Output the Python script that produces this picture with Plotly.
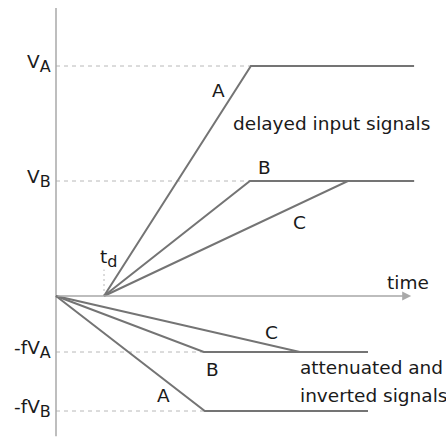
import plotly.graph_objects as go

# Time in units of the delay t_d, voltage in units of V_B
t_delay = 1.0

# Delayed input signals (upper half)
delayed_A_t = [1.0, 4.06, 7.46]
delayed_A_v = [0.0, 2.0, 2.0]
delayed_B_t = [1.0, 4.04, 7.46]
delayed_B_v = [0.0, 1.0, 1.0]
delayed_C_t = [1.0, 6.08, 7.46]
delayed_C_v = [0.0, 1.0, 1.0]

# Attenuated and inverted signals (lower half)
inverted_A_t = [0.0, 3.10, 6.50]
inverted_A_v = [0.0, -1.0, -1.0]
inverted_B_t = [0.0, 3.08, 6.50]
inverted_B_v = [0.0, -0.487, -0.487]
inverted_C_t = [0.0, 5.08, 6.50]
inverted_C_v = [0.0, -0.487, -0.487]

# Reference levels on the vertical axis
level_main = ["V", "V", "-fV", "-fV"]
level_subs = ["A", "B", "A", "B"]
level_values = [2.0, 1.0, -0.487, -1.0]
level_ends = [4.06, 4.04, 3.08, 3.10]

FONT = "DejaVu Sans"
FS = 18.5
SUB_FS = 16
TXT = "#1a1a1a"
LINE = "#747474"
AXIS = "#a8a8a8"
DASH = "#b8b8b8"

fig = go.Figure()

# dashed level guides
for v, xe in zip(level_values, level_ends):
    fig.add_trace(go.Scatter(x=[0, xe], y=[v, v], mode="lines",
                             line=dict(color=DASH, width=1, dash="4px,4px"),
                             hoverinfo="skip"))

# dotted marker under t_d
fig.add_trace(go.Scatter(x=[t_delay, t_delay], y=[0, 0.23], mode="lines",
                         line=dict(color=DASH, width=1, dash="2px,3px"),
                         hoverinfo="skip"))

# vertical axis
fig.add_trace(go.Scatter(x=[0, 0], y=[2.505, -1.22], mode="lines",
                         line=dict(color=AXIS, width=1.5), hoverinfo="skip"))

# signal traces
for ts, vs in [(delayed_A_t, delayed_A_v), (delayed_B_t, delayed_B_v),
               (delayed_C_t, delayed_C_v), (inverted_A_t, inverted_A_v),
               (inverted_B_t, inverted_B_v), (inverted_C_t, inverted_C_v)]:
    fig.add_trace(go.Scatter(x=ts, y=vs, mode="lines",
                             line=dict(color=LINE, width=2), hoverinfo="skip"))

# time axis with arrow
fig.add_annotation(x=7.4, y=0, ax=0, ay=0, xref="x", yref="y", axref="x", ayref="y",
                   text="", showarrow=True, arrowhead=2, arrowsize=1.2,
                   arrowwidth=1.5, arrowcolor=AXIS)


def label(x, y, text, xanchor="center", yanchor="middle", size=FS):
    fig.add_annotation(x=x, y=y, xref="x", yref="y", text=text, showarrow=False,
                       xanchor=xanchor, yanchor=yanchor,
                       font=dict(family=FONT, size=size, color=TXT))


SUB = "<sub><span style='font-size:%dpx'>%s</span></sub>"

for main, sub, v in zip(level_main, level_subs, level_values):
    label(-0.06, v + 0.02, main + SUB % (SUB_FS, sub), xanchor="right")

label(1.1, 0.33, "t" + SUB % (SUB_FS, "d"))
label(3.375, 1.79, "A")
label(4.35, 1.12, "B")
label(5.08, 0.64, "C")
label(3.64, 1.50, "delayed input signals", xanchor="left")
label(7.33, 0.12, "time")
label(4.48, -0.313, "C")
label(3.27, -0.643, "B")
label(2.23, -0.861, "A")
label(5.04, -0.626, "attenuated and", xanchor="left")
label(5.04, -0.861, "inverted signals", xanchor="left")

fig.update_layout(
    width=446, height=437,
    margin=dict(l=0, r=0, t=0, b=0),
    paper_bgcolor="white", plot_bgcolor="white",
    showlegend=False,
    xaxis=dict(range=[-56 / 48, 390 / 48], visible=False, fixedrange=True),
    yaxis=dict(range=[-141 / 115, 296 / 115], visible=False, fixedrange=True),
)

fig.write_html("out.html")
